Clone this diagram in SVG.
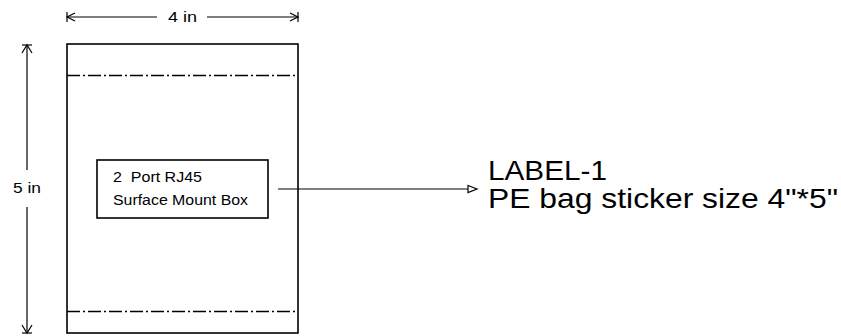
<svg xmlns="http://www.w3.org/2000/svg" width="841" height="336" viewBox="0 0 841 336">
<style>
.ln{stroke:#000;stroke-width:1.2;fill:none}
.bx{stroke:#000;stroke-width:1.6;fill:#fff}
.dd{stroke:#000;stroke-width:1.3;fill:none;stroke-dasharray:13,3,2,3}
.t{font-family:"Liberation Sans",Arial,sans-serif;fill:#000;white-space:pre}
.s{font-size:14px}
.b{font-size:28px}
</style>
<defs>
<marker id="open" markerWidth="12" markerHeight="10" refX="10" refY="5" orient="auto" markerUnits="userSpaceOnUse">
<path d="M1,1.5 L10,5 L1,8.5 Z" fill="#fff" stroke="#000" stroke-width="1.2"/>
</marker>
</defs>
<rect width="841" height="336" fill="#fff"/>
<g id="bag">
<rect class="bx" x="67" y="44" width="231" height="289"/>
<line class="dd" x1="67" y1="75.5" x2="298" y2="75.5"/>
<line class="dd" x1="67" y1="311.5" x2="298" y2="311.5"/>
</g>
<g id="dim-width">
<line class="ln" x1="67" y1="17" x2="157" y2="17"/>
<line class="ln" x1="207" y1="17" x2="298" y2="17"/>
<line class="ln" x1="67" y1="12" x2="67" y2="22"/>
<line class="ln" x1="298" y1="12" x2="298" y2="22"/>
<path class="ln" d="M75,13 L67,17 L75,21"/>
<path class="ln" d="M290,13 L298,17 L290,21"/>
<text class="t s" x="168" y="22" textLength="29" lengthAdjust="spacingAndGlyphs">4 in</text>
</g>
<g id="dim-height">
<line class="ln" x1="27" y1="45" x2="27" y2="170"/>
<line class="ln" x1="27" y1="207" x2="27" y2="333"/>
<line class="ln" x1="22" y1="45" x2="32" y2="45"/>
<line class="ln" x1="22" y1="333" x2="32" y2="333"/>
<path class="ln" d="M22,53 L27,45 L32,53"/>
<path class="ln" d="M22,325 L27,333 L32,325"/>
<text class="t s" x="13" y="193" textLength="28" lengthAdjust="spacingAndGlyphs">5 in</text>
</g>
<g id="label-box">
<rect class="bx" x="97" y="160" width="171" height="58"/>
<text class="t s" x="113" y="182" textLength="89" lengthAdjust="spacingAndGlyphs">2  Port RJ45</text>
<text class="t s" x="113" y="205" textLength="135" lengthAdjust="spacingAndGlyphs">Surface Mount Box</text>
</g>
<g id="connectors">
<line class="ln" x1="278" y1="189" x2="477" y2="189" marker-end="url(#open)"/>
</g>
<g id="label-text">
<text class="t b" x="488" y="180" textLength="119" lengthAdjust="spacingAndGlyphs">LABEL-1</text>
<text class="t b" x="488" y="208" textLength="350" lengthAdjust="spacingAndGlyphs">PE bag sticker size 4"*5"</text>
</g>
</svg>
